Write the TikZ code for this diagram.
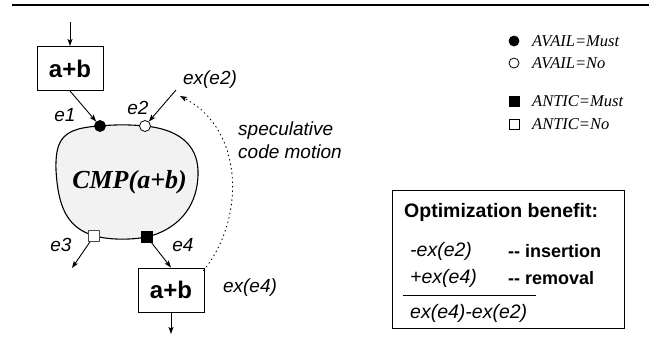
\documentclass[tikz,border=0pt]{standalone}
\usepackage{fontspec}
\setmainfont{Liberation Serif}
\setsansfont{Liberation Sans}
\usetikzlibrary{arrows.meta}
\newfontfamily\hv{Liberation Sans}
\newfontfamily\tms{Liberation Serif}

\tikzset{
  arr/.style={line width=0.9pt,-{Stealth[length=7pt,width=5pt,inset=1.5pt]}},
  exprbox/.style={draw,line width=1pt,minimum width=66pt,minimum height=44pt,inner sep=0pt,
                  font=\hv\bfseries\fontsize{24}{28}\selectfont},
  edgelbl/.style={inner sep=0pt,font=\hv\itshape\fontsize{19}{22}\selectfont},
  legendtxt/.style={anchor=west,inner sep=0pt,font=\tms\itshape\fontsize{16.5}{19}\selectfont},
  fullpt/.style={circle,fill=black,draw=black,line width=0.8pt,minimum size=11pt,inner sep=0pt},
  openpt/.style={circle,fill=white,draw=black,line width=0.8pt,minimum size=11pt,inner sep=0pt},
  fullsq/.style={rectangle,fill=black,draw=black,line width=0.8pt,minimum size=11pt,inner sep=0pt},
  opensq/.style={rectangle,fill=white,draw=black!70,line width=0.8pt,minimum size=11pt,inner sep=0pt},
  boxtxt/.style={anchor=west,inner sep=0pt},
}

\begin{document}
\begin{tikzpicture}[x=1pt,y=-1pt]
\useasboundingbox (0,0) rectangle (656,354);

% rule across the top
\draw[line width=2.2pt] (12,5) -- (649,5);

% the region CMP(a+b)
\draw[line width=1.1pt,fill=black!5]
  (100,126) .. controls (115,124.5) and (130,124.5) .. (145,126)
  .. controls (185,130) and (199,150) .. (198,175)
  .. controls (197,210) and (175,230) .. (147,237)
  .. controls (130,240) and (110,240) .. (95,236)
  .. controls (66,228) and (58,205) .. (56,170)
  .. controls (55,138) and (64,128) .. (100,126) -- cycle;
\node[inner sep=0pt,font=\tms\bfseries\itshape\fontsize{26}{30}\selectfont] (cmp) at (129.5,182) {CMP(a+b)};

% boundary points of the region
\node[fullpt] (c1) at (100,126) {};
\node[openpt] (c2) at (145,126) {};
\node[opensq] (q3) at (94,236) {};
\node[fullsq] (q4) at (147,237) {};

% computations a+b
\node[exprbox] (top) at (70,68.5) {a+b};
\node[exprbox] (bot) at (171,290) {a+b};

\coordinate (topin) at (70,22);
\coordinate (e3end) at (72,268);
\coordinate (botout) at (171,334);
\coordinate (s2) at (176,90);
\coordinate (specend) at (180,96);

\draw[arr] (topin) -- (top.north);
\draw[arr] (top.south) -- (c1);
\draw[arr] (s2) -- (c2);
\draw[arr] (q3) -- (e3end);
\draw[arr] (q4) -- (bot.north);
\draw[arr] (bot.south) -- (botout);

% speculative code motion
\draw[line width=0.9pt,dash pattern=on 0.9pt off 3.6pt,line cap=round,
      -{Stealth[length=7pt,width=5pt,inset=1.5pt]}]
  ([xshift=-1pt,yshift=-3pt]bot.north east) .. controls (245,220) and (245,130) .. (specend);

% edge labels
\node[edgelbl] (l1) at (65,115) {e1};
\node[edgelbl] (l2) at (138,108) {e2};
\node[edgelbl] (l3) at (61,245) {e3};
\node[edgelbl] (l4) at (183,245) {e4};
\node[edgelbl] (x2) at (210,80) {ex(e2)};
\node[edgelbl] (x4) at (250,288) {ex(e4)};
\node[edgelbl,anchor=west] (sp1) at (238,131) {speculative};
\node[edgelbl,anchor=west] (sp2) at (238,152) {code motion};

% legend
\node[fullpt,minimum size=10pt] (k1) at (514,41) {};
\node[openpt,minimum size=10pt] (k2) at (514,63) {};
\node[fullsq,minimum size=10pt] (k3) at (514,101) {};
\node[opensq,draw=black,minimum size=10pt] (k4) at (514,124) {};
\node[legendtxt] (t1) at (532,41) {AVAIL=Must};
\node[legendtxt] (t2) at (532,63) {AVAIL=No};
\node[legendtxt] (t3) at (532,101) {ANTIC=Must};
\node[legendtxt] (t4) at (532,124) {ANTIC=No};

% optimization benefit
\draw[line width=1pt] (392,190) rectangle (624,328);
\node[boxtxt,font=\hv\bfseries\fontsize{19.5}{22}\selectfont] (ob) at (404,212) {Optimization benefit:};
\node[boxtxt,font=\hv\itshape\fontsize{19.5}{22}\selectfont] (r1) at (410,251) {-ex(e2)};
\node[boxtxt,font=\hv\bfseries\fontsize{18}{21}\selectfont] (r1b) at (508,251) {{-}{-} insertion};
\node[boxtxt,font=\hv\itshape\fontsize{19.5}{22}\selectfont] (r2) at (410,278) {+ex(e4)};
\node[boxtxt,font=\hv\bfseries\fontsize{18}{21}\selectfont] (r2b) at (508,278) {{-}{-} removal};
\draw[line width=1pt] (403,295) -- (536,295);
\node[boxtxt,font=\hv\itshape\fontsize{19.5}{22}\selectfont] (r3) at (410,313) {ex(e4)-ex(e2)};
\end{tikzpicture}
\end{document}
